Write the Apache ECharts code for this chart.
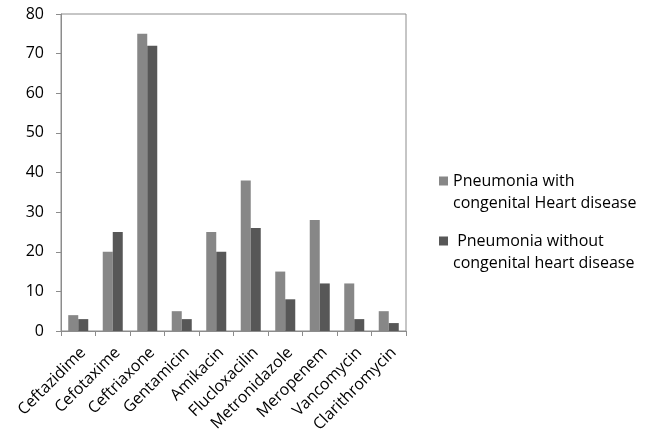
<!DOCTYPE html>
<html><head><meta charset="utf-8">
<script src="https://cdn.jsdelivr.net/npm/echarts@6/dist/echarts.min.js"></script>
<style>html,body{margin:0;padding:0;background:#fff}#c{width:647px;height:436px}</style>
</head><body><div id="c"></div>
<script>
const categories = ['Ceftazidime','Cefotaxime','Ceftriaxone','Gentamicin','Amikacin','Flucloxacilin','Metronidazole','Meropenem','Vancomycin','Clarithromycin'];
const withCHD = [4,20,75,5,25,38,15,28,12,5];
const withoutCHD = [3,25,72,3,20,26,8,12,3,2];
const seriesNames = ['Pneumonia with\ncongenital Heart disease',' Pneumonia without\ncongenital heart disease'];
const yTicks = {min:0,max:80,interval:10};
const font = '"Open Sans", sans-serif';
const chart = echarts.init(document.getElementById('c'));
chart.setOption({
  animation:false,
  grid:{left:61,right:241,top:14,bottom:105,show:true,borderColor:'#8c8c8c',borderWidth:1},
  legend:{orient:'vertical',left:434,top:143,itemWidth:9,itemHeight:9,itemGap:-6,icon:'rect',
    textStyle:{fontFamily:font,fontSize:16,color:'#000',lineHeight:22},
    formatter:function(n){return '\n'+n;},
    data:seriesNames},
  xAxis:{type:'category',data:categories,
    axisLine:{lineStyle:{color:'#8c8c8c'}},
    axisTick:{show:true,alignWithLabel:false,length:5,lineStyle:{color:'#8c8c8c'}},
    axisLabel:{rotate:45,interval:0,fontFamily:font,fontSize:16,color:'#000',margin:24,padding:[0,-7,0,0]}},
  yAxis:{type:'value',min:yTicks.min,max:yTicks.max,interval:yTicks.interval,
    axisLine:{show:true,lineStyle:{color:'#8c8c8c'}},
    axisTick:{show:true,length:5,lineStyle:{color:'#8c8c8c'}},
    splitLine:{show:false},
    axisLabel:{fontFamily:font,fontSize:16,color:'#000',margin:17}},
  series:[
    {name:seriesNames[0],type:'bar',data:withCHD,barGap:'0%',barCategoryGap:'42%',
     itemStyle:{color:'#878787'}},
    {name:seriesNames[1],type:'bar',data:withoutCHD,
     itemStyle:{color:'#575757'}}
  ]
});
</script></body></html>
